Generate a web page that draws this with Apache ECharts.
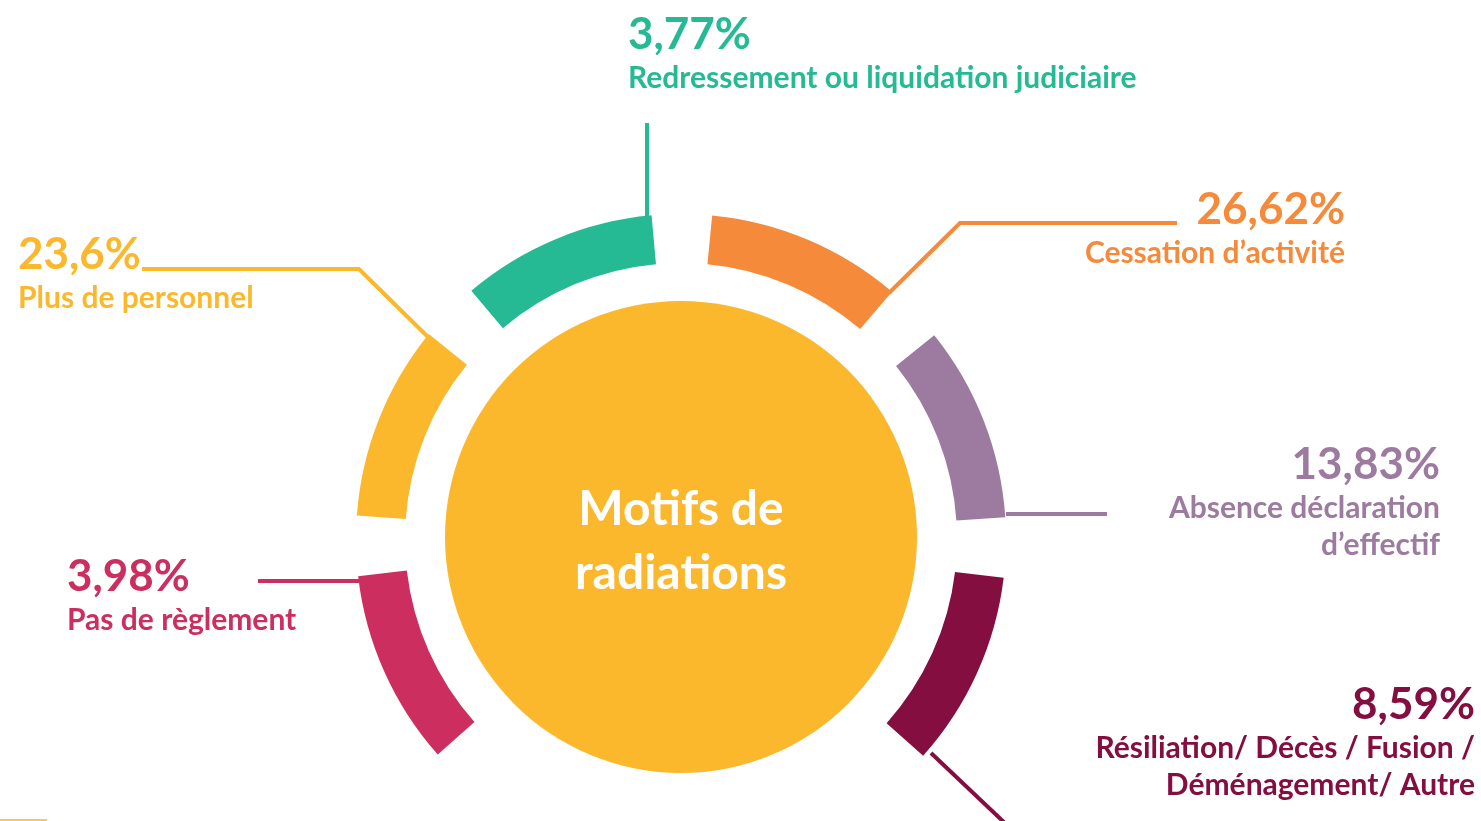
<!DOCTYPE html>
<html>
<head>
<meta charset="utf-8">
<title>Motifs de radiations</title>
<script src="https://cdn.jsdelivr.net/npm/echarts@6/dist/echarts.min.js"></script>
<style>
  html, body { margin: 0; padding: 0; background: #fff; }
  #chart { width: 1481px; height: 821px; }
</style>
</head>
<body>
<div id="chart"></div>
<script>
// clockwise, starting with the arc at the lower left
var categories = [
  "Pas de règlement",
  "Plus de personnel",
  "Redressement ou liquidation judiciaire",
  "Cessation d’activité",
  "Absence déclaration\nd’effectif",
  "Résiliation/ Décès / Fusion /\nDéménagement/ Autre"
];
var shares = [3.98, 23.6, 3.77, 26.62, 13.83, 8.59];
var colors = ["#CC2F5F", "#FBB82C", "#25BA94", "#F58A3B", "#9D7BA0", "#850E40"];
var title = "Motifs de\nradiations";

// where each label sits and how its leader line runs
var labelSpots = [
  { x: 67, y: 552, align: "left", line: [[360, 581], [258, 581], [258, 581]] },
  { x: 18, y: 230, align: "left", line: [[431, 340], [359, 269], [142, 269]] },
  { x: 628, y: 10, align: "left", line: [[647, 226], [647, 123], [647, 123]] },
  { x: 1345, y: 185, align: "right", line: [[889, 293], [960, 223], [1177, 223]] },
  { x: 1440, y: 440, align: "right", line: [[1006, 514], [1107, 514], [1107, 514]] },
  { x: 1475, y: 680, align: "right", line: [[931, 753], [1008, 826], [1008, 826]] }
];

function pct(v) {
  return String(v).replace(".", ",") + "%";
}

var ringData = categories.map(function (name, i) {
  return {
    name: name,
    value: 1, // the arcs in the picture all have the same length
    share: shares[i],
    itemStyle: { color: colors[i] },
    label: { color: colors[i] },
    labelLine: { lineStyle: { color: colors[i] } }
  };
});

var myChart = echarts.init(document.getElementById("chart"));

var option = {
  backgroundColor: "#fff",
  animation: false,
  textStyle: { fontFamily: "Lato" },
  graphic: [
    {
      type: "rect",
      left: 0,
      top: 819,
      shape: { width: 47, height: 2 },
      style: { fill: "#FBB82C", opacity: 0.8 }
    }
  ],
  series: [
    {
      type: "pie",
      center: [681, 539],
      radius: [276, 325],
      startAngle: 226.9,
      endAngle: -47.2,
      clockwise: true,
      padAngle: 10.7,
      avoidLabelOverlap: false,
      silent: true,
      data: ringData,
      label: {
        show: true,
        position: "outside",
        fontFamily: "Lato",
        fontWeight: "bold",
        formatter: function (p) {
          var lines = p.name.split("\n").map(function (s) {
            return "{n|" + s + "}";
          });
          return "{p|" + pct(p.data.share) + "}\n" + lines.join("\n");
        },
        rich: {
          p: { fontSize: 44, lineHeight: 50, fontWeight: "bold", fontFamily: "Lato" },
          n: { fontSize: 30, lineHeight: 37, fontWeight: "bold", fontFamily: "Lato" }
        }
      },
      labelLine: {
        show: true,
        length: 10,
        length2: 10,
        lineStyle: { width: 4 }
      },
      labelLayout: function (params) {
        var s = labelSpots[params.dataIndex];
        return {
          x: s.x,
          y: s.y,
          align: s.align,
          verticalAlign: "top",
          labelLinePoints: s.line
        };
      }
    },
    {
      type: "pie",
      center: [681, 537],
      radius: [0, 236],
      silent: true,
      data: [{ name: title, value: 1 }],
      itemStyle: { color: "#FBB82C" },
      labelLine: { show: false },
      label: {
        show: true,
        position: "center",
        formatter: title,
        color: "#fff",
        fontFamily: "Lato",
        fontWeight: "bold",
        fontSize: 48,
        lineHeight: 64
      },
      labelLayout: { dy: 5 }
    }
  ]
};

myChart.setOption(option);
</script>
</body>
</html>
